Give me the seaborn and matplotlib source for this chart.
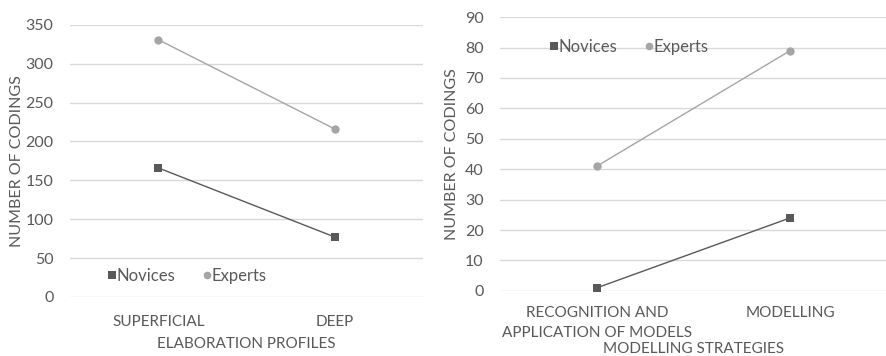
import pandas as pd
import matplotlib.pyplot as plt
import seaborn as sns
from matplotlib.lines import Line2D

# Left chart: elaboration profiles
profiles = ['SUPERFICIAL', 'DEEP']
profile_novices = [166, 77]
profile_experts = [331, 216]

# Right chart: modelling strategies
strategies = ['RECOGNITION AND\nAPPLICATION OF MODELS', 'MODELLING']
strategy_novices = [1, 24]
strategy_experts = [41, 79]

groups = ['Novices', 'Experts']
colors = {'Novices': '#595959', 'Experts': '#a5a5a5'}
markers = {'Novices': 's', 'Experts': 'o'}

sns.set_style('white')
plt.rcParams['font.family'] = ['Lato', 'DejaVu Sans']
text_color = '#595959'


def make_df(cats, nov, exp):
    return pd.DataFrame({
        'category': cats * 2,
        'value': nov + exp,
        'group': ['Novices'] * len(cats) + ['Experts'] * len(cats),
    })


fig = plt.figure(figsize=(8.87, 3.56), dpi=100)
ax1 = fig.add_axes([0.079, 0.166, 0.398, 0.764])
ax2 = fig.add_axes([0.564, 0.183, 0.436, 0.769])

df1 = make_df(profiles, profile_novices, profile_experts)
df2 = make_df(strategies, strategy_novices, strategy_experts)

for ax, df, ymax, step in [(ax1, df1, 350, 50), (ax2, df2, 90, 10)]:
    for g in groups:
        sub = df[df['group'] == g]
        sns.lineplot(data=sub, x='category', y='value', ax=ax, color=colors[g],
                     marker=markers[g], markersize=6, markeredgewidth=0,
                     linewidth=1, legend=False, sort=False)
    ax.set_xlim(-0.5, 1.5)
    ax.set_ylim(0, ymax)
    ax.set_yticks(range(0, ymax + 1, step))
    ax.grid(axis='y', color='#d9d9d9', linewidth=1)
    ax.set_axisbelow(True)
    for s in ax.spines.values():
        s.set_visible(False)
    ax.tick_params(axis='both', length=0, colors=text_color, labelsize=11.5)
    ax.tick_params(axis='y', pad=12)

ax1.set_ylabel('NUMBER OF CODINGS', color=text_color, fontsize=11.5, labelpad=1)
ax2.set_ylabel('NUMBER OF CODINGS', color=text_color, fontsize=11.5, labelpad=4)

ax1.tick_params(axis='x', labelsize=11, pad=13)
ax1.set_xlabel('ELABORATION PROFILES', color=text_color, fontsize=11, labelpad=6)

ax2.set_xticks([0, 1])
ax2.set_xticklabels(strategies, linespacing=1.5)
ax2.tick_params(axis='x', labelsize=11, pad=11)
ax2.set_xlabel('MODELLING STRATEGIES', color=text_color, fontsize=11, labelpad=2)

handles = [Line2D([], [], color=colors[g], marker=markers[g], linestyle='none',
                  markersize=5.5, markeredgewidth=0) for g in groups]
for ax, loc in [(ax1, (0.087, 0.077)), (ax2, (0.11, 0.89))]:
    leg = ax.legend(handles, groups, loc='center left', bbox_to_anchor=loc,
                    ncol=2, frameon=False, handlelength=0.4, handletextpad=0.05,
                    columnspacing=1.7, fontsize=12, borderpad=0)
    for t in leg.get_texts():
        t.set_color(text_color)

fig.savefig('out.png', dpi=100)
